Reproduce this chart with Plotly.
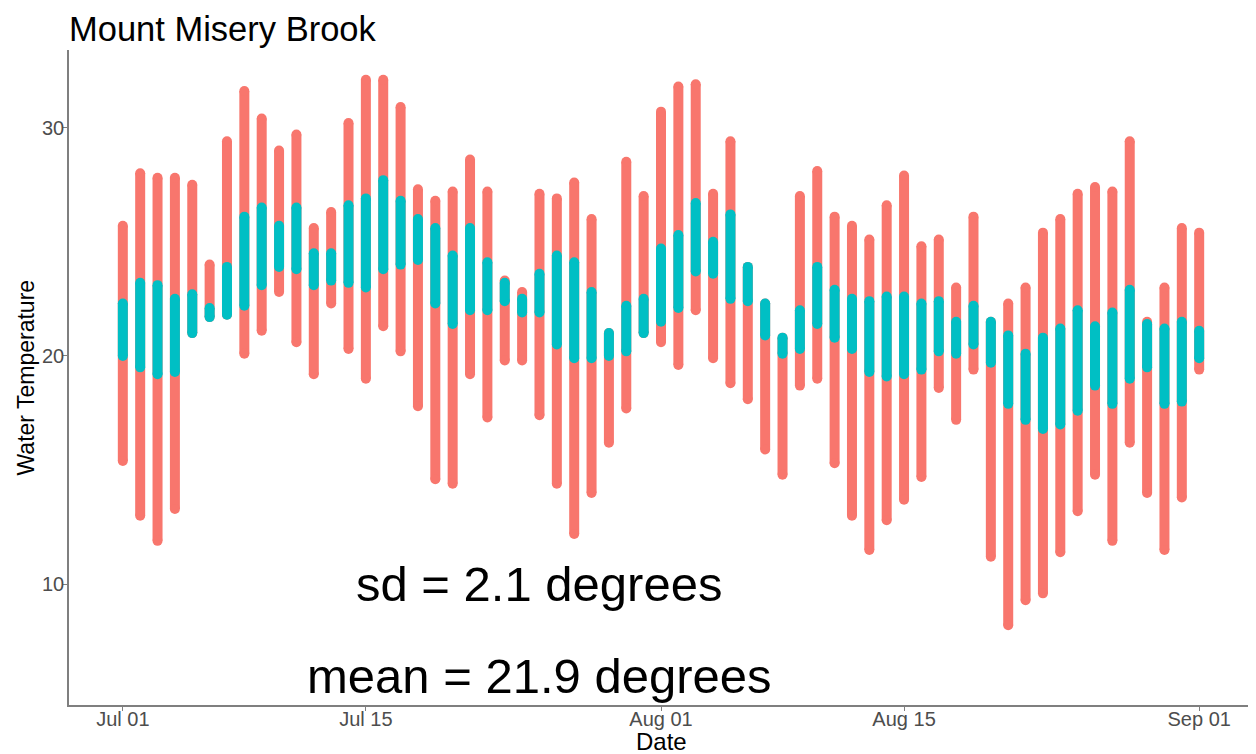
import plotly.graph_objects as go
import pandas as pd

# Days Jul 01 .. Sep 01
start_date = "2019-07-01"
end_date = "2019-09-01"
dates = list(pd.date_range(start_date, end_date, freq="D"))

# Full daily range of readings (red points)
red_max = [25.7, 28.0, 27.8, 27.8, 27.5, 24.0, 29.4, 31.6, 30.4, 29.0,
           29.7, 25.6, 26.3, 30.2, 32.1, 32.1, 30.9, 27.3, 26.8, 27.2,
           28.6, 27.2, 23.3, 22.8, 27.1, 26.9, 27.6, 26.0, 21.0, 28.5,
           27.0, 30.7, 31.8, 31.9, 27.1, 29.4, 23.9, 22.3, 20.8, 27.0,
           28.1, 26.1, 25.7, 25.1, 26.6, 27.9, 24.8, 25.1, 23.0, 26.1,
           21.5, 22.3, 23.0, 25.4, 26.0, 27.1, 27.4, 27.2, 29.4, 21.5,
           23.0, 25.6, 25.4]
red_min = [15.4, 13.0, 11.9, 13.3, 21.0, 21.7, 21.8, 20.1, 21.1, 22.8,
           20.6, 19.2, 22.3, 20.3, 19.0, 21.3, 20.2, 17.8, 14.6, 14.4,
           19.2, 17.3, 19.8, 19.8, 17.4, 14.4, 12.2, 14.0, 16.2, 17.7,
           21.0, 20.6, 19.6, 22.0, 19.9, 18.8, 18.1, 15.9, 14.8, 18.7,
           19.0, 15.3, 13.0, 11.5, 12.8, 13.7, 14.7, 18.6, 17.2, 19.4,
           11.2, 8.2, 9.3, 9.6, 11.4, 13.2, 14.8, 11.9, 16.2, 14.0,
           11.5, 13.8, 19.4]

# Readings within the daily sd band (cyan points)
cyan_hi = [22.3, 23.2, 23.1, 22.5, 22.7, 22.1, 23.9, 26.1, 26.5, 25.7,
           26.5, 24.5, 24.5, 26.6, 26.9, 27.7, 26.8, 26.0, 25.6, 24.4,
           25.6, 24.1, 23.2, 22.5, 23.6, 24.4, 24.1, 22.8, 21.0, 22.2,
           22.5, 24.7, 25.3, 26.7, 25.0, 26.2, 23.9, 22.3, 20.8, 22.0,
           23.9, 22.9, 22.5, 22.4, 22.6, 22.6, 22.3, 22.4, 21.5, 22.2,
           21.5, 20.9, 20.1, 20.8, 21.2, 22.0, 21.3, 21.9, 22.9, 21.4,
           21.2, 21.5, 21.1]
cyan_lo = [20.0, 19.5, 19.2, 19.3, 21.0, 21.7, 21.8, 22.2, 23.1, 23.9,
           23.8, 23.1, 23.3, 23.2, 23.0, 23.8, 24.0, 24.2, 22.3, 21.4,
           22.0, 22.0, 22.4, 21.9, 21.9, 20.5, 19.9, 19.9, 20.0, 20.2,
           21.0, 21.5, 22.1, 23.7, 23.6, 22.5, 22.4, 20.9, 20.1, 20.3,
           21.4, 20.8, 20.3, 19.3, 19.1, 19.2, 19.4, 20.2, 20.1, 20.5,
           19.7, 17.9, 17.2, 16.8, 17.0, 17.6, 18.7, 17.9, 19.0, 19.5,
           17.9, 18.0, 19.9]

tick_dates = ["2019-07-01", "2019-07-15", "2019-08-01", "2019-08-15", "2019-09-01"]
tick_text = ["Jul 01", "Jul 15", "Aug 01", "Aug 15", "Sep 01"]
y_ticks = [10, 20, 30]

title_text = "Mount Misery Brook"
x_title = "Date"
y_title = "Water Temperature"
sd_text = "sd = 2.1 degrees"
mean_text = "mean = 21.9 degrees"
label_date = "2019-07-25"
sd_label_y = 10
mean_label_y = 6

RED = "#F8766D"
CYAN = "#00BFC4"
FONT = "Liberation Sans, Arial, sans-serif"
DOT = 10
AXIS_GREY = "#7f7f7f"


def columns(lo, hi):
    xs, ys = [], []
    for d, a, b in zip(dates, lo, hi):
        xs += [d, d, None]
        ys += [a, b, None]
    return xs, ys


fig = go.Figure()
rx, ry = columns(red_min, red_max)
fig.add_trace(go.Scatter(x=rx, y=ry, mode="lines+markers",
                         line=dict(color=RED, width=DOT),
                         marker=dict(color=RED, size=DOT),
                         hoverinfo="skip", showlegend=False))
cx, cy = columns(cyan_lo, cyan_hi)
fig.add_trace(go.Scatter(x=cx, y=cy, mode="lines+markers",
                         line=dict(color=CYAN, width=DOT),
                         marker=dict(color=CYAN, size=DOT),
                         hoverinfo="skip", showlegend=False))

pad = pd.Timedelta(days=3.1)
# the page body has an 8px margin, so the figure is 8px smaller than the window
W, H = 1248, 746
ML, MR, MT, MB = 61, 3, 42, 49
plot_w = W - ML - MR
plot_h = H - MT - MB

fig.update_layout(
    width=W, height=H,
    margin=dict(l=ML, r=MR, t=MT, b=MB, autoexpand=False),
    paper_bgcolor="white", plot_bgcolor="white",
    font=dict(family=FONT),
    hovermode=False,
    title=dict(text=title_text, font=dict(size=34.5, color="black", family=FONT),
               x=0, xref="paper", xanchor="left",
               y=1 - 21 / H, yref="container", yanchor="middle"),
    xaxis=dict(type="date", range=[dates[0] - pad, dates[-1] + pad],
               tickvals=tick_dates, ticktext=tick_text,
               showline=True, linecolor=AXIS_GREY, linewidth=1.6,
               ticks="outside", ticklen=4, tickcolor=AXIS_GREY, tickwidth=1.2,
               tickfont=dict(size=20, color="#4D4D4D"),
               ticklabelstandoff=-9,
               showgrid=False, zeroline=False, automargin=False),
    yaxis=dict(range=[4.71, 33.40], tickvals=y_ticks,
               showline=True, linecolor=AXIS_GREY, linewidth=1.6,
               ticks="outside", ticklen=4, tickcolor=AXIS_GREY, tickwidth=1.2,
               tickfont=dict(size=20, color="#4D4D4D"),
               ticklabelstandoff=-5,
               showgrid=False, zeroline=False, automargin=False),
    annotations=[
        dict(x=label_date, y=sd_label_y, xref="x", yref="y", text=sd_text,
             showarrow=False, font=dict(size=49, color="black"),
             xanchor="center", yanchor="middle"),
        dict(x=label_date, y=mean_label_y, xref="x", yref="y", text=mean_text,
             showarrow=False, font=dict(size=49, color="black"),
             xanchor="center", yanchor="middle"),
        dict(x=0.5, y=-(734 - (H - MB)) / plot_h, xref="paper", yref="paper",
             text=x_title, showarrow=False, font=dict(size=24, color="black"),
             xanchor="center", yanchor="middle"),
        dict(x=-(ML - 17) / plot_w, y=0.5, xref="paper", yref="paper",
             text=y_title, textangle=-90, showarrow=False,
             font=dict(size=23, color="black"),
             xanchor="center", yanchor="middle"),
    ],
)

fig.write_html("out.html")
